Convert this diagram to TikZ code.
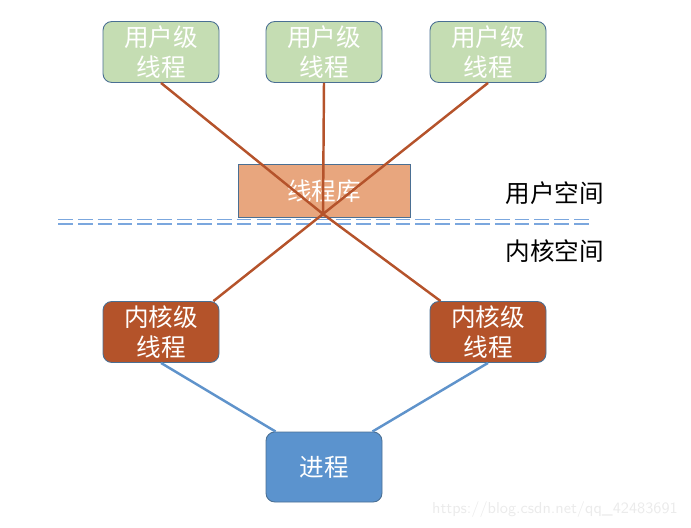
\documentclass[tikz,border=0pt]{standalone}
\usepackage{fontspec}
\setmainfont{Noto Sans CJK SC}
\usepackage{tikz}
\usetikzlibrary{positioning,calc}
\usepackage{xcolor}

\definecolor{userfill}{HTML}{C5DDB3}
\definecolor{libfill}{HTML}{E8A67E}
\definecolor{kernfill}{HTML}{B4532A}
\definecolor{procfill}{HTML}{5B93CE}
\definecolor{edgeblue}{HTML}{4A6F93}
\definecolor{maplink}{HTML}{B5532B}
\definecolor{proclink}{HTML}{5F93CB}
\definecolor{splitline}{HTML}{7BA7DE}

\tikzset{
  thrbox/.style={draw=edgeblue, line width=0.5pt, rounded corners=5pt,
    minimum width=116*0.02cm, minimum height=61*0.02cm, align=center,
    text=white, font=\fontsize{14pt}{17pt}\selectfont, inner sep=0pt},
  ubox/.style={thrbox, fill=userfill},
  kbox/.style={thrbox, fill=kernfill},
  splitdash/.style={splitline, line width=1.1pt, dash pattern=on 8.4pt off 2.9pt},
}

\begin{document}
\begin{tikzpicture}[x=0.02cm, y=-0.02cm]
        \useasboundingbox (0,0) rectangle (691,528);

        % User-level threads
        \node[ubox] (u1) at (161,52) {用户级\\线程};
        \node[ubox] (u2) at (324,52) {用户级\\线程};
        \node[ubox] (u3) at (488,52) {用户级\\线程};

        % Thread library
        \node[draw=edgeblue, line width=0.5pt, fill=libfill, minimum width=172*0.02cm,
              minimum height=53*0.02cm, text=white, font=\fontsize{14pt}{15pt}\selectfont]
              (lib) at (324,191) {线程库};

        % Boundary between user and kernel space
        \draw[splitdash] (58,219.5) -- (590,219.5);
        \draw[splitdash] (58,224) -- (590,224);
        \node[font=\fontsize{14pt}{15pt}\selectfont] (us) at (555,193) {用户空间};
        \node[font=\fontsize{14pt}{15pt}\selectfont] (ks) at (555,251) {内核空间};

        % Kernel-level threads
        \node[kbox] (k1) at (161,332) {内核级\\线程};
        \node[kbox] (k2) at (488,332) {内核级\\线程};

        % Process
        \node[thrbox, fill=procfill, minimum height=70*0.02cm] (proc) at (324,467) {进程};

        % Mapping through the library
        \coordinate (x) at (323,214);
        \draw[maplink, line width=1.4pt] (u1.south) -- (x);
        \draw[maplink, line width=1.4pt] (u2.south) -- (x);
        \draw[maplink, line width=1.4pt] (u3.south) -- (x);
        \draw[maplink, line width=1.4pt] (x) -- ($(k1.north east)+(-6,0)$);
        \draw[maplink, line width=1.4pt] (x) -- ($(k2.north west)+(11,0)$);

        % Kernel threads to process
        \draw[proclink, line width=1.4pt] (k1.south) -- ($(proc.north west)+(10,0)$);
        \draw[proclink, line width=1.4pt] (k2.south) -- ($(proc.north east)+(-10,0)$);

        % Watermark
        \node[text=black!8, font=\sffamily\fontsize{9pt}{10pt}\selectfont, anchor=east]
              (wm) at (684,510) {https://blog.csdn.net/qq\_42483691};
    \end{tikzpicture}
\end{document}
